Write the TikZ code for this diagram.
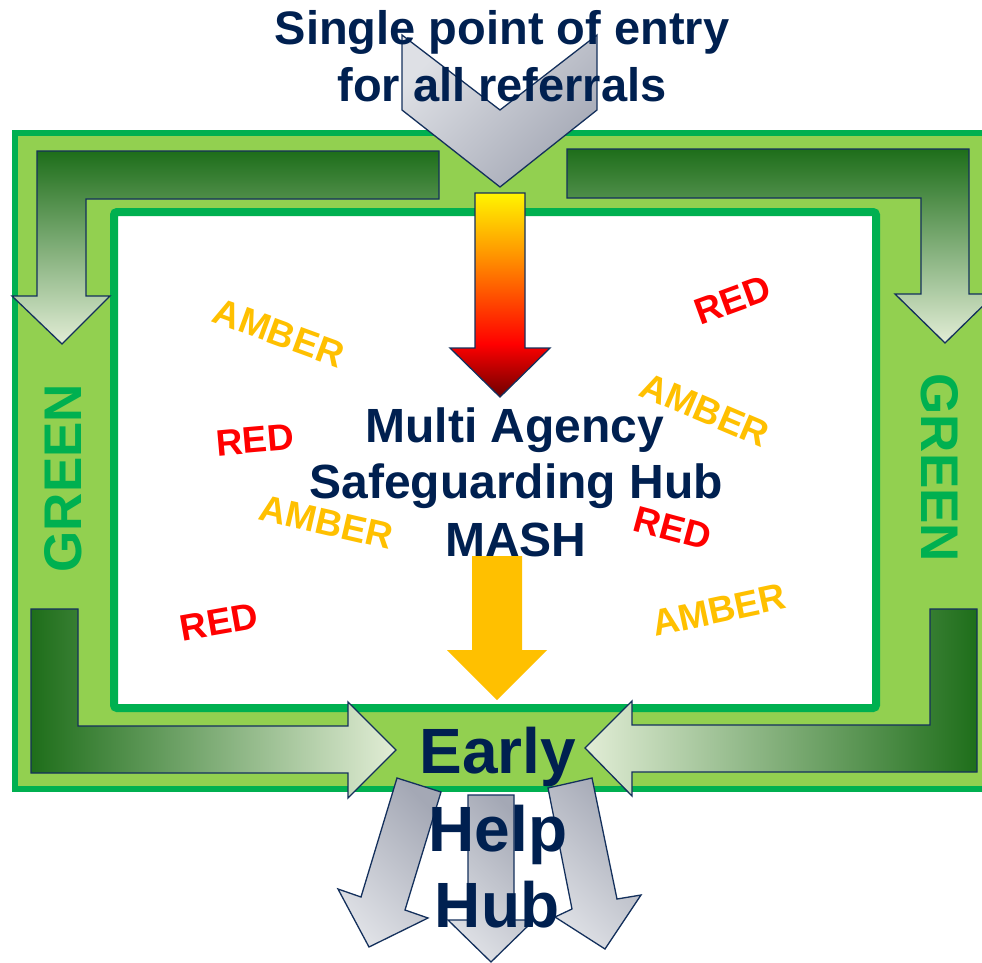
\documentclass[tikz,border=0pt]{standalone}
\usepackage{fontspec}
\setmainfont{Liberation Sans}
\definecolor{navy}{RGB}{0,32,80}
\definecolor{frameG}{RGB}{0,176,80}
\definecolor{lightG}{RGB}{146,208,80}
\definecolor{darkG}{RGB}{30,110,26}
\definecolor{paleG}{RGB}{226,237,214}
\definecolor{outl}{RGB}{20,48,92}
\definecolor{greyL}{RGB}{222,224,229}
\definecolor{greyD}{RGB}{164,168,181}
\definecolor{amber}{RGB}{255,192,0}
\definecolor{redc}{RGB}{255,0,0}
\definecolor{heatD}{RGB}{110,0,0}
\definecolor{heatO}{RGB}{255,150,0}
\definecolor{heatY}{RGB}{255,245,0}
\pgfdeclareverticalshading{heat}{100bp}{color(0bp)=(heatD); color(25bp)=(heatD); color(38bp)=(redc); color(60bp)=(heatO); color(75bp)=(heatY); color(100bp)=(heatY)}
\begin{document}
\begin{tikzpicture}[x=1pt,y=-1pt,
  arrowline/.style={draw=outl, line width=1.3pt, line join=miter},
  greenL/.style={arrowline, top color=darkG, bottom color=paleG},
  greyarrow/.style={arrowline, top color=greyD, bottom color=greyL, shading angle=-45},
  txt/.style={inner sep=0pt, font=\bfseries},
  head/.style={txt, text=navy, font=\fontsize{47}{56}\selectfont\bfseries, anchor=base},
  mash/.style={txt, text=navy, font=\fontsize{48}{56}\selectfont\bfseries, anchor=base},
  early/.style={txt, text=navy, font=\fontsize{64}{76}\selectfont\bfseries, anchor=base},
  lab/.style={txt, font=\fontsize{37}{40}\selectfont\bfseries},
  vgreen/.style={txt, text=frameG, font=\fontsize{53}{56}\selectfont\bfseries}
]
\useasboundingbox (0,0) rectangle (982,963);
\clip (0,0) rectangle (982,963);
% frames
\draw[line width=6pt, draw=frameG, fill=lightG] (15,133) rectangle (1010,788.5);
\draw[line width=8pt, draw=frameG, fill=white, rounded corners=3pt] (114,212) rectangle (876,708);
% green L arrows
\path[greenL] (37,151) -- (439,151) -- (439,199) -- (86,199) -- (86,296) -- (110,296) -- (62,344) -- (12,296) -- (37,296) -- cycle;
\path[greenL] (567,149) -- (969,149) -- (969,294) -- (995,294) -- (945,343) -- (895,294) -- (921,294) -- (921,198) -- (567,198) -- cycle;
\path[arrowline, left color=darkG, right color=paleG] (31,609) -- (78,609) -- (78,726) -- (348,726) -- (348,702) -- (396,750) -- (348,798) -- (348,773) -- (31,773) -- cycle;
\path[arrowline, left color=paleG, right color=darkG] (977,609) -- (930,609) -- (930,725) -- (632,725) -- (632,701) -- (585,748) -- (632,796) -- (632,772) -- (977,772) -- cycle;
% entry chevron
\path[arrowline, top color=greyL, bottom color=greyD, shading angle=45] (402,35) -- (500,110) -- (597,35) -- (597,110) -- (500,187) -- (402,110) -- cycle;
\node[head] (title1) at (502,45) {Single point of entry};
\node[head] (title2) at (502,102) {for all referrals};
% heat arrow
\path[arrowline, shade, shading=heat] (475,193) -- (525,193) -- (525,348) -- (550,348) -- (500,397) -- (450,348) -- (475,348) -- cycle;
% labels
\node[lab, text=amber, rotate=-20] (amber1) at (279,333) {AMBER};
\node[lab, text=redc, rotate=5] (red1) at (255,440) {RED};
\node[lab, text=amber, rotate=-13] (amber2) at (326,522) {AMBER};
\node[lab, text=redc, rotate=10] (red2) at (219,622) {RED};
\node[lab, text=redc, rotate=20] (red3) at (733,300) {RED};
\node[lab, text=amber, rotate=-23] (amber3) at (705,410) {AMBER};
\node[lab, text=redc, rotate=-15] (red4) at (673,528) {RED};
\node[lab, text=amber, rotate=12] (amber4) at (719,610) {AMBER};
\node[vgreen, rotate=90] (greenl) at (63,478) {GREEN};
\node[vgreen, rotate=-90] (greenr) at (940,468) {GREEN};
% MASH
\node[mash] (mash1) at (515,442) {Multi Agency};
\node[mash] (mash2) at (516,498) {Safeguarding Hub};
\node[mash] (mash3) at (516,556) {MASH};
% amber arrow
\path[fill=amber] (472,556) -- (522,556) -- (522,650) -- (547,650) -- (497,700) -- (447,650) -- (472,650) -- cycle;
% output arrows
\path[greyarrow] (397,778) -- (441,792) -- (405,910) -- (428,918) -- (369,947) -- (338,889) -- (361,897) -- cycle;
\path[greyarrow] (468,795) -- (514,795) -- (514,920) -- (534,920) -- (491,962) -- (448,920) -- (468,920) -- cycle;
\path[greyarrow] (548,788) -- (592,778) -- (617,899) -- (641,895) -- (605,949) -- (555,917) -- (572,909) -- cycle;
% Early Help Hub
\node[early] (early1) at (498,773) {Early};
\node[early] (early2) at (498,851) {Help};
\node[early] (early3) at (497,927) {Hub};
\end{tikzpicture}
\end{document}
